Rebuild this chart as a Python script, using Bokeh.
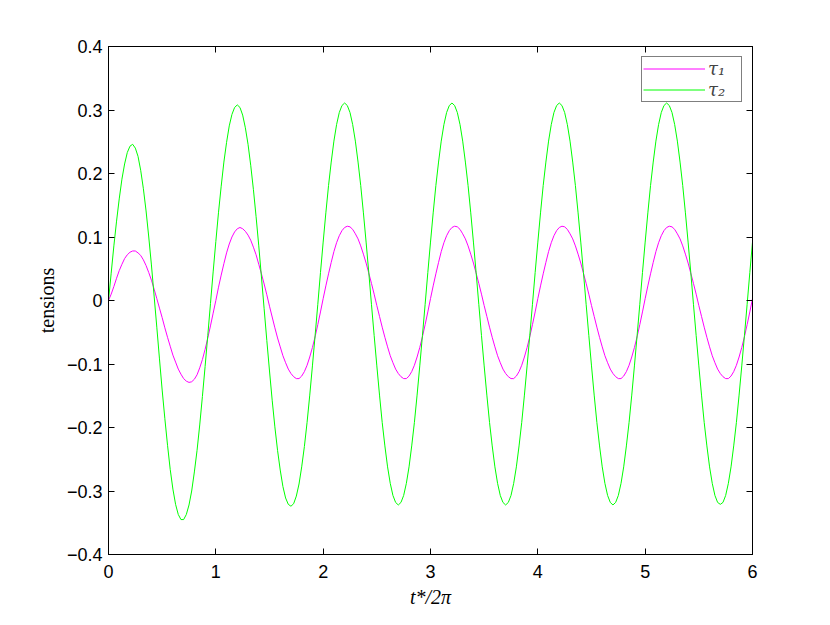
from bokeh.plotting import figure
from bokeh.models import (Range1d, LinearAxis, FixedTicker, CustomJSTickFormatter,
                          Legend, LegendItem)
from bokeh.embed import file_html
from bokeh.resources import INLINE

# sample positions along t*/2pi (every 0.025)
t = [round(0.025 * i, 3) for i in range(241)]

# tau_1 (magenta), one row per unit of t*/2pi
tau1 = [
    # 0 .. 0.975
    0.000, 0.010, 0.022, 0.035, 0.047, 0.057, 0.066, 0.072, 0.076, 0.078,
    0.078, 0.075, 0.071, 0.064, 0.055, 0.044, 0.032, 0.018, 0.003, -0.012,
    -0.027, -0.043, -0.058, -0.072, -0.086, -0.097, -0.108, -0.116, -0.123, -0.127,
    -0.129, -0.128, -0.124, -0.117, -0.106, -0.093, -0.077, -0.059, -0.040, -0.020,
    # 1 .. 1.975
    0.000, 0.021, 0.040, 0.058, 0.075, 0.089, 0.100, 0.108, 0.113, 0.115,
    0.113, 0.109, 0.103, 0.095, 0.084, 0.072, 0.057, 0.042, 0.026, 0.009,
    -0.009, -0.026, -0.043, -0.059, -0.073, -0.087, -0.098, -0.108, -0.115, -0.120,
    -0.123, -0.123, -0.119, -0.112, -0.102, -0.089, -0.074, -0.057, -0.038, -0.018,
    # 2 .. 2.975
    0.003, 0.023, 0.042, 0.060, 0.077, 0.091, 0.102, 0.110, 0.115, 0.117,
    0.116, 0.112, 0.105, 0.097, 0.086, 0.073, 0.059, 0.043, 0.027, 0.010,
    -0.008, -0.025, -0.042, -0.058, -0.073, -0.087, -0.098, -0.108, -0.115, -0.120,
    -0.123, -0.123, -0.119, -0.112, -0.102, -0.089, -0.074, -0.057, -0.038, -0.018,
    # 3 .. 3.975
    0.003, 0.023, 0.042, 0.060, 0.077, 0.091, 0.102, 0.110, 0.115, 0.117,
    0.116, 0.112, 0.105, 0.097, 0.086, 0.073, 0.059, 0.043, 0.027, 0.010,
    -0.008, -0.025, -0.042, -0.058, -0.073, -0.087, -0.098, -0.108, -0.115, -0.120,
    -0.123, -0.123, -0.119, -0.112, -0.102, -0.089, -0.074, -0.057, -0.038, -0.018,
    # 4 .. 4.975
    0.003, 0.023, 0.042, 0.060, 0.077, 0.091, 0.102, 0.110, 0.115, 0.117,
    0.116, 0.112, 0.105, 0.097, 0.086, 0.073, 0.059, 0.043, 0.027, 0.010,
    -0.008, -0.025, -0.042, -0.058, -0.073, -0.087, -0.098, -0.108, -0.115, -0.120,
    -0.123, -0.123, -0.119, -0.112, -0.102, -0.089, -0.074, -0.057, -0.038, -0.018,
    # 5 .. 5.975
    0.003, 0.023, 0.042, 0.060, 0.077, 0.091, 0.102, 0.110, 0.115, 0.117,
    0.116, 0.112, 0.105, 0.097, 0.086, 0.073, 0.059, 0.043, 0.027, 0.010,
    -0.008, -0.025, -0.042, -0.058, -0.073, -0.087, -0.098, -0.108, -0.115, -0.120,
    -0.123, -0.123, -0.119, -0.112, -0.102, -0.089, -0.074, -0.057, -0.038, -0.018,
    # 6
    0.003,
]

# tau_2 (green)
tau2 = [
    # 0 .. 0.975
    0.000, 0.043, 0.086, 0.125, 0.160, 0.191, 0.215, 0.233, 0.243, 0.246,
    0.240, 0.227, 0.205, 0.176, 0.141, 0.100, 0.056, 0.007, -0.042, -0.092,
    -0.141, -0.186, -0.228, -0.266, -0.297, -0.321, -0.337, -0.345, -0.345, -0.337,
    -0.322, -0.300, -0.270, -0.236, -0.196, -0.151, -0.104, -0.055, -0.005, 0.045,
    # 1 .. 1.975
    0.093, 0.139, 0.180, 0.218, 0.249, 0.275, 0.293, 0.304, 0.308, 0.304,
    0.292, 0.272, 0.246, 0.213, 0.175, 0.132, 0.086, 0.037, -0.013, -0.063,
    -0.111, -0.157, -0.199, -0.236, -0.267, -0.293, -0.311, -0.321, -0.324, -0.320,
    -0.308, -0.289, -0.262, -0.230, -0.192, -0.149, -0.103, -0.055, -0.006, 0.044,
    # 2 .. 2.975
    0.092, 0.138, 0.181, 0.218, 0.251, 0.277, 0.296, 0.307, 0.311, 0.307,
    0.296, 0.277, 0.251, 0.218, 0.181, 0.138, 0.092, 0.044, -0.006, -0.055,
    -0.103, -0.149, -0.192, -0.229, -0.262, -0.288, -0.307, -0.318, -0.322, -0.318,
    -0.307, -0.288, -0.262, -0.229, -0.192, -0.149, -0.103, -0.055, -0.006, 0.044,
    # 3 .. 3.975
    0.092, 0.138, 0.181, 0.218, 0.251, 0.277, 0.296, 0.307, 0.311, 0.307,
    0.296, 0.277, 0.251, 0.218, 0.181, 0.138, 0.092, 0.044, -0.006, -0.055,
    -0.103, -0.149, -0.192, -0.229, -0.262, -0.288, -0.307, -0.318, -0.322, -0.318,
    -0.307, -0.288, -0.262, -0.229, -0.192, -0.149, -0.103, -0.055, -0.006, 0.044,
    # 4 .. 4.975
    0.092, 0.138, 0.181, 0.218, 0.251, 0.277, 0.296, 0.307, 0.311, 0.307,
    0.296, 0.277, 0.251, 0.218, 0.181, 0.138, 0.092, 0.044, -0.006, -0.055,
    -0.103, -0.149, -0.192, -0.229, -0.262, -0.288, -0.307, -0.318, -0.322, -0.318,
    -0.307, -0.288, -0.262, -0.229, -0.192, -0.149, -0.103, -0.055, -0.006, 0.044,
    # 5 .. 5.975
    0.092, 0.138, 0.181, 0.218, 0.251, 0.277, 0.296, 0.307, 0.311, 0.307,
    0.296, 0.277, 0.251, 0.218, 0.181, 0.138, 0.092, 0.044, -0.006, -0.055,
    -0.103, -0.149, -0.192, -0.229, -0.262, -0.288, -0.307, -0.318, -0.321, -0.318,
    -0.307, -0.288, -0.262, -0.229, -0.192, -0.149, -0.103, -0.055, -0.006, 0.044,
    # 6
    0.092,
]

series_labels = ["τ₁", "τ₂"]
series_colors = ["#ff00ff", "#00ff00"]

x_ticks = [0, 1, 2, 3, 4, 5, 6]
x_tick_labels = ["0", "1", "2", "3", "4", "5", "6"]
y_ticks = [-0.4, -0.3, -0.2, -0.1, 0, 0.1, 0.2, 0.3, 0.4]
y_tick_labels = ["−0.4", "−0.3", "−0.2", "−0.1", "0", "0.1", "0.2", "0.3", "0.4"]

p = figure(width=822, height=616, output_backend="svg", toolbar_location=None,
           x_range=Range1d(0, 6), y_range=Range1d(-0.4, 0.4),
           min_border_left=108, min_border_right=70,
           min_border_top=46, min_border_bottom=62)

p.background_fill_color = "white"
p.border_fill_color = "white"
p.outline_line_color = "black"
p.outline_line_width = 1
p.xgrid.visible = False
p.ygrid.visible = False


def style_axis(ax):
    ax.major_tick_in = 6
    ax.major_tick_out = 0
    ax.minor_tick_line_color = None
    ax.axis_line_color = "black"
    ax.axis_line_width = 1
    ax.major_tick_line_color = "black"
    ax.major_tick_line_width = 1
    ax.major_label_text_font = "Liberation Sans"
    ax.major_label_text_font_size = "18px"
    ax.major_label_text_color = "black"


xa = p.xaxis[0]
xa.ticker = FixedTicker(ticks=x_ticks)
xa.major_label_overrides = {k: v for k, v in zip(x_ticks, x_tick_labels)}
style_axis(xa)
xa.major_label_standoff = 10
xa.axis_label = "t*/2π"
xa.axis_label_text_font = "Liberation Serif"
xa.axis_label_text_font_style = "italic"
xa.axis_label_text_font_size = "20px"
xa.axis_label_text_color = "black"
xa.axis_label_standoff = 5

ya = p.yaxis[0]
ya.ticker = FixedTicker(ticks=y_ticks)
ya.major_label_overrides = {k: v for k, v in zip(y_ticks, y_tick_labels)}
style_axis(ya)
ya.major_label_standoff = 6
ya.axis_label = "tensions"
ya.axis_label_text_font = "Liberation Serif"
ya.axis_label_text_font_style = "normal"
ya.axis_label_text_font_size = "20px"
ya.axis_label_text_color = "black"
ya.axis_label_standoff = 6

empty = CustomJSTickFormatter(code="return ''")
top = LinearAxis(ticker=FixedTicker(ticks=x_ticks), formatter=empty)
style_axis(top)
top.major_label_text_font_size = "1px"
p.add_layout(top, "above")
right = LinearAxis(ticker=FixedTicker(ticks=y_ticks), formatter=empty)
style_axis(right)
right.major_label_text_font_size = "1px"
p.add_layout(right, "right")

r1 = p.line(t, tau1, line_color=series_colors[0], line_width=1)
r2 = p.line(t, tau2, line_color=series_colors[1], line_width=1)

legend = Legend(items=[LegendItem(label=series_labels[0], renderers=[r1]),
                       LegendItem(label=series_labels[1], renderers=[r2])],
                location="top_right")
legend.margin = 10
legend.padding = 1
legend.spacing = -4
legend.border_line_color = "black"
legend.border_line_width = 1
legend.background_fill_color = "white"
legend.background_fill_alpha = 1
legend.label_text_font = "DejaVu Serif"
legend.label_text_font_style = "italic"
legend.label_text_font_size = "18px"
legend.label_standoff = 3
legend.glyph_width = 62
legend.glyph_height = 17
legend.label_height = 17
legend.label_width = 32
p.add_layout(legend, "center")

open("out.html", "w").write(file_html(p, INLINE))
